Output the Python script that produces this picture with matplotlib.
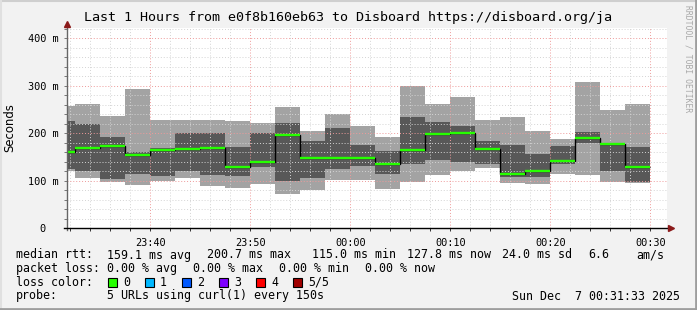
import numpy as np
import matplotlib
matplotlib.use('Agg')
import matplotlib.pyplot as plt
from matplotlib.lines import Line2D
from matplotlib.patches import Rectangle

# smokeping style: 5 pings per 150s step, minutes after 23:30
edges = np.arange(0, 62.5, 2.5)
ping_min = [120, 106, 98, 92, 100, 105, 88, 84, 93, 73, 81, 102, 102, 83, 98, 112, 121, 127, 96, 93, 114, 112, 98, 95]
ping_low = [125, 121, 104, 114, 110, 121, 112, 110, 130, 100, 106, 125, 132, 114, 135, 144, 140, 135, 109, 109, 135, 180, 121, 98]
median = [161, 168, 173, 155, 165, 167, 170, 130, 140, 197, 148, 148, 148, 135, 164, 199, 201, 167, 115, 121, 142, 190, 178, 128]
ping_high = [226, 220, 192, 160, 170, 200, 200, 171, 200, 222, 184, 211, 175, 163, 234, 224, 215, 184, 175, 156, 173, 203, 179, 171]
ping_max = [258, 262, 237, 293, 228, 228, 228, 226, 222, 255, 205, 241, 215, 192, 300, 262, 276, 228, 234, 205, 188, 308, 249, 262]

xticks = [10, 20, 30, 40, 50, 60]
xlabels = ['23:40', '23:50', '00:00', '00:10', '00:20', '00:30']
loss_colors = ['#26ff00', '#00b8ff', '#0059ff', '#7e00ff', '#ff0000', '#a10000']
loss_labels = ['0', '1', '2', '3', '4', '5/5']

W, H = 697, 310
MONO = 'DejaVu Sans Mono'


def fx(x):
    return x / W


def fy(y):
    return 1 - y / H


fig = plt.figure(figsize=(W / 100, H / 100), dpi=100, facecolor='#f2f2f2')
ax = fig.add_axes([fx(67), fy(228.3), 600 / W, 200 / H])
ax.set_facecolor('white')

ax.stairs(ping_max, edges, baseline=ping_min, fill=True, color='#a3a3a3', zorder=1)
ax.stairs(ping_high, edges, baseline=ping_low, fill=True, color='#585858', zorder=1.1)
ax.stairs(median, edges, baseline=None, color='black', lw=1, zorder=3)
ax.hlines(median, edges[:-1], edges[1:], color='#26ff00', lw=1.7, zorder=4)

ax.set_xlim(1.667, 61.667)
ax.set_ylim(0, 421)

ax.set_xticks(xticks)
ax.set_xticklabels(xlabels)
ax.set_xticks(np.arange(2, 62, 2), minor=True)
ax.set_yticks([0, 100, 200, 300, 400])
ax.set_yticklabels(['0  ', '100 m', '200 m', '300 m', '400 m'])
ax.set_yticks(np.arange(0, 421, 20), minor=True)

ax.set_axisbelow(False)
ax.grid(which='minor', color='#d4d4d4', lw=0.7, linestyle=(0, (1, 2)), zorder=2)
ax.grid(which='major', color='#ee9a9a', lw=0.7, linestyle=(0, (1, 2)), zorder=2.1)

for lab in ax.get_xticklabels() + ax.get_yticklabels():
    lab.set_family(MONO)
    lab.set_fontsize(7.4)
ax.tick_params(axis='y', which='both', length=2, width=0.7, color='#777777', pad=4)
ax.tick_params(axis='x', which='both', length=2, width=0.7, color='#333333', pad=5)
for s in ax.spines.values():
    s.set_visible(False)

# axes lines with rrdtool-like arrows
fig.add_artist(Line2D([fx(67), fx(67)], [fy(230), fy(26)], color='#666666', lw=1))
fig.add_artist(Line2D([fx(64), fx(669)], [fy(228.3), fy(228.3)], color='black', lw=1))
fig.add_artist(Line2D([fx(67)], [fy(24)], marker='^', ms=4.5, color='#8b1a1a', lw=0))
fig.add_artist(Line2D([fx(671)], [fy(228.3)], marker='>', ms=4.5, color='#8b1a1a', lw=0))

fig.text(fx(348), fy(18), 'Last 1 Hours from e0f8b160eb63 to Disboard https://disboard.org/ja',
         ha='center', va='center', family=MONO, fontsize=9.6)
fig.text(fx(10), fy(128), 'Seconds', rotation=90, ha='center', va='center',
         family='DejaVu Sans', fontsize=8.4)
fig.text(fx(688), fy(5), 'RRDTOOL / TOBI OETIKER', rotation=270, ha='center', va='top',
         family=MONO, fontsize=5.8, color='#a8a8a8')

# legend rows
rows = [
    (255, [(16, 'median rtt:'), (107, '159.1 ms avg'), (207, '200.7 ms max'), (312, '115.0 ms min'),
           (407, '127.8 ms now'), (502, '24.0 ms sd'), (588, '6.6'), (636, 'am/s')]),
    (268.5, [(16, 'packet loss:'), (107, '0.00 % avg'), (193, '0.00 % max'), (279, '0.00 % min'),
             (365, '0.00 % now')]),
    (282, [(16, 'loss color:')]),
    (296, [(16, 'probe:'), (107, '5 URLs using curl(1) every 150s')]),
]
for y, items in rows:
    for x, s in items:
        fig.text(fx(x), fy(y), s, ha='left', va='center', family=MONO, fontsize=8.4)

box_x = [108, 145, 182, 219, 256, 293]
for bx, c, lab in zip(box_x, loss_colors, loss_labels):
    fig.add_artist(Rectangle((fx(bx), fy(287)), 9 / W, 9 / H, transform=fig.transFigure,
                             facecolor=c, edgecolor='black', lw=0.8))
    fig.text(fx(bx + 15), fy(282), lab, ha='left', va='center', family=MONO, fontsize=8.4)

fig.text(fx(680), fy(296), 'Sun Dec  7 00:31:33 2025', ha='right', va='center',
         family=MONO, fontsize=8.4)

# image frame
fig.add_artist(Line2D([0, 1], [fy(0.8), fy(0.8)], color='#cfcfcf', lw=1.5))
fig.add_artist(Line2D([fx(0.8), fx(0.8)], [0, 1], color='#e0e0e0', lw=1.5))
fig.add_artist(Line2D([0, 1], [fy(308.8), fy(308.8)], color='#9e9e9e', lw=2))
fig.add_artist(Line2D([fx(695.8), fx(695.8)], [0, 1], color='#9e9e9e', lw=2))

fig.savefig('out.png', dpi=100, facecolor=fig.get_facecolor())
